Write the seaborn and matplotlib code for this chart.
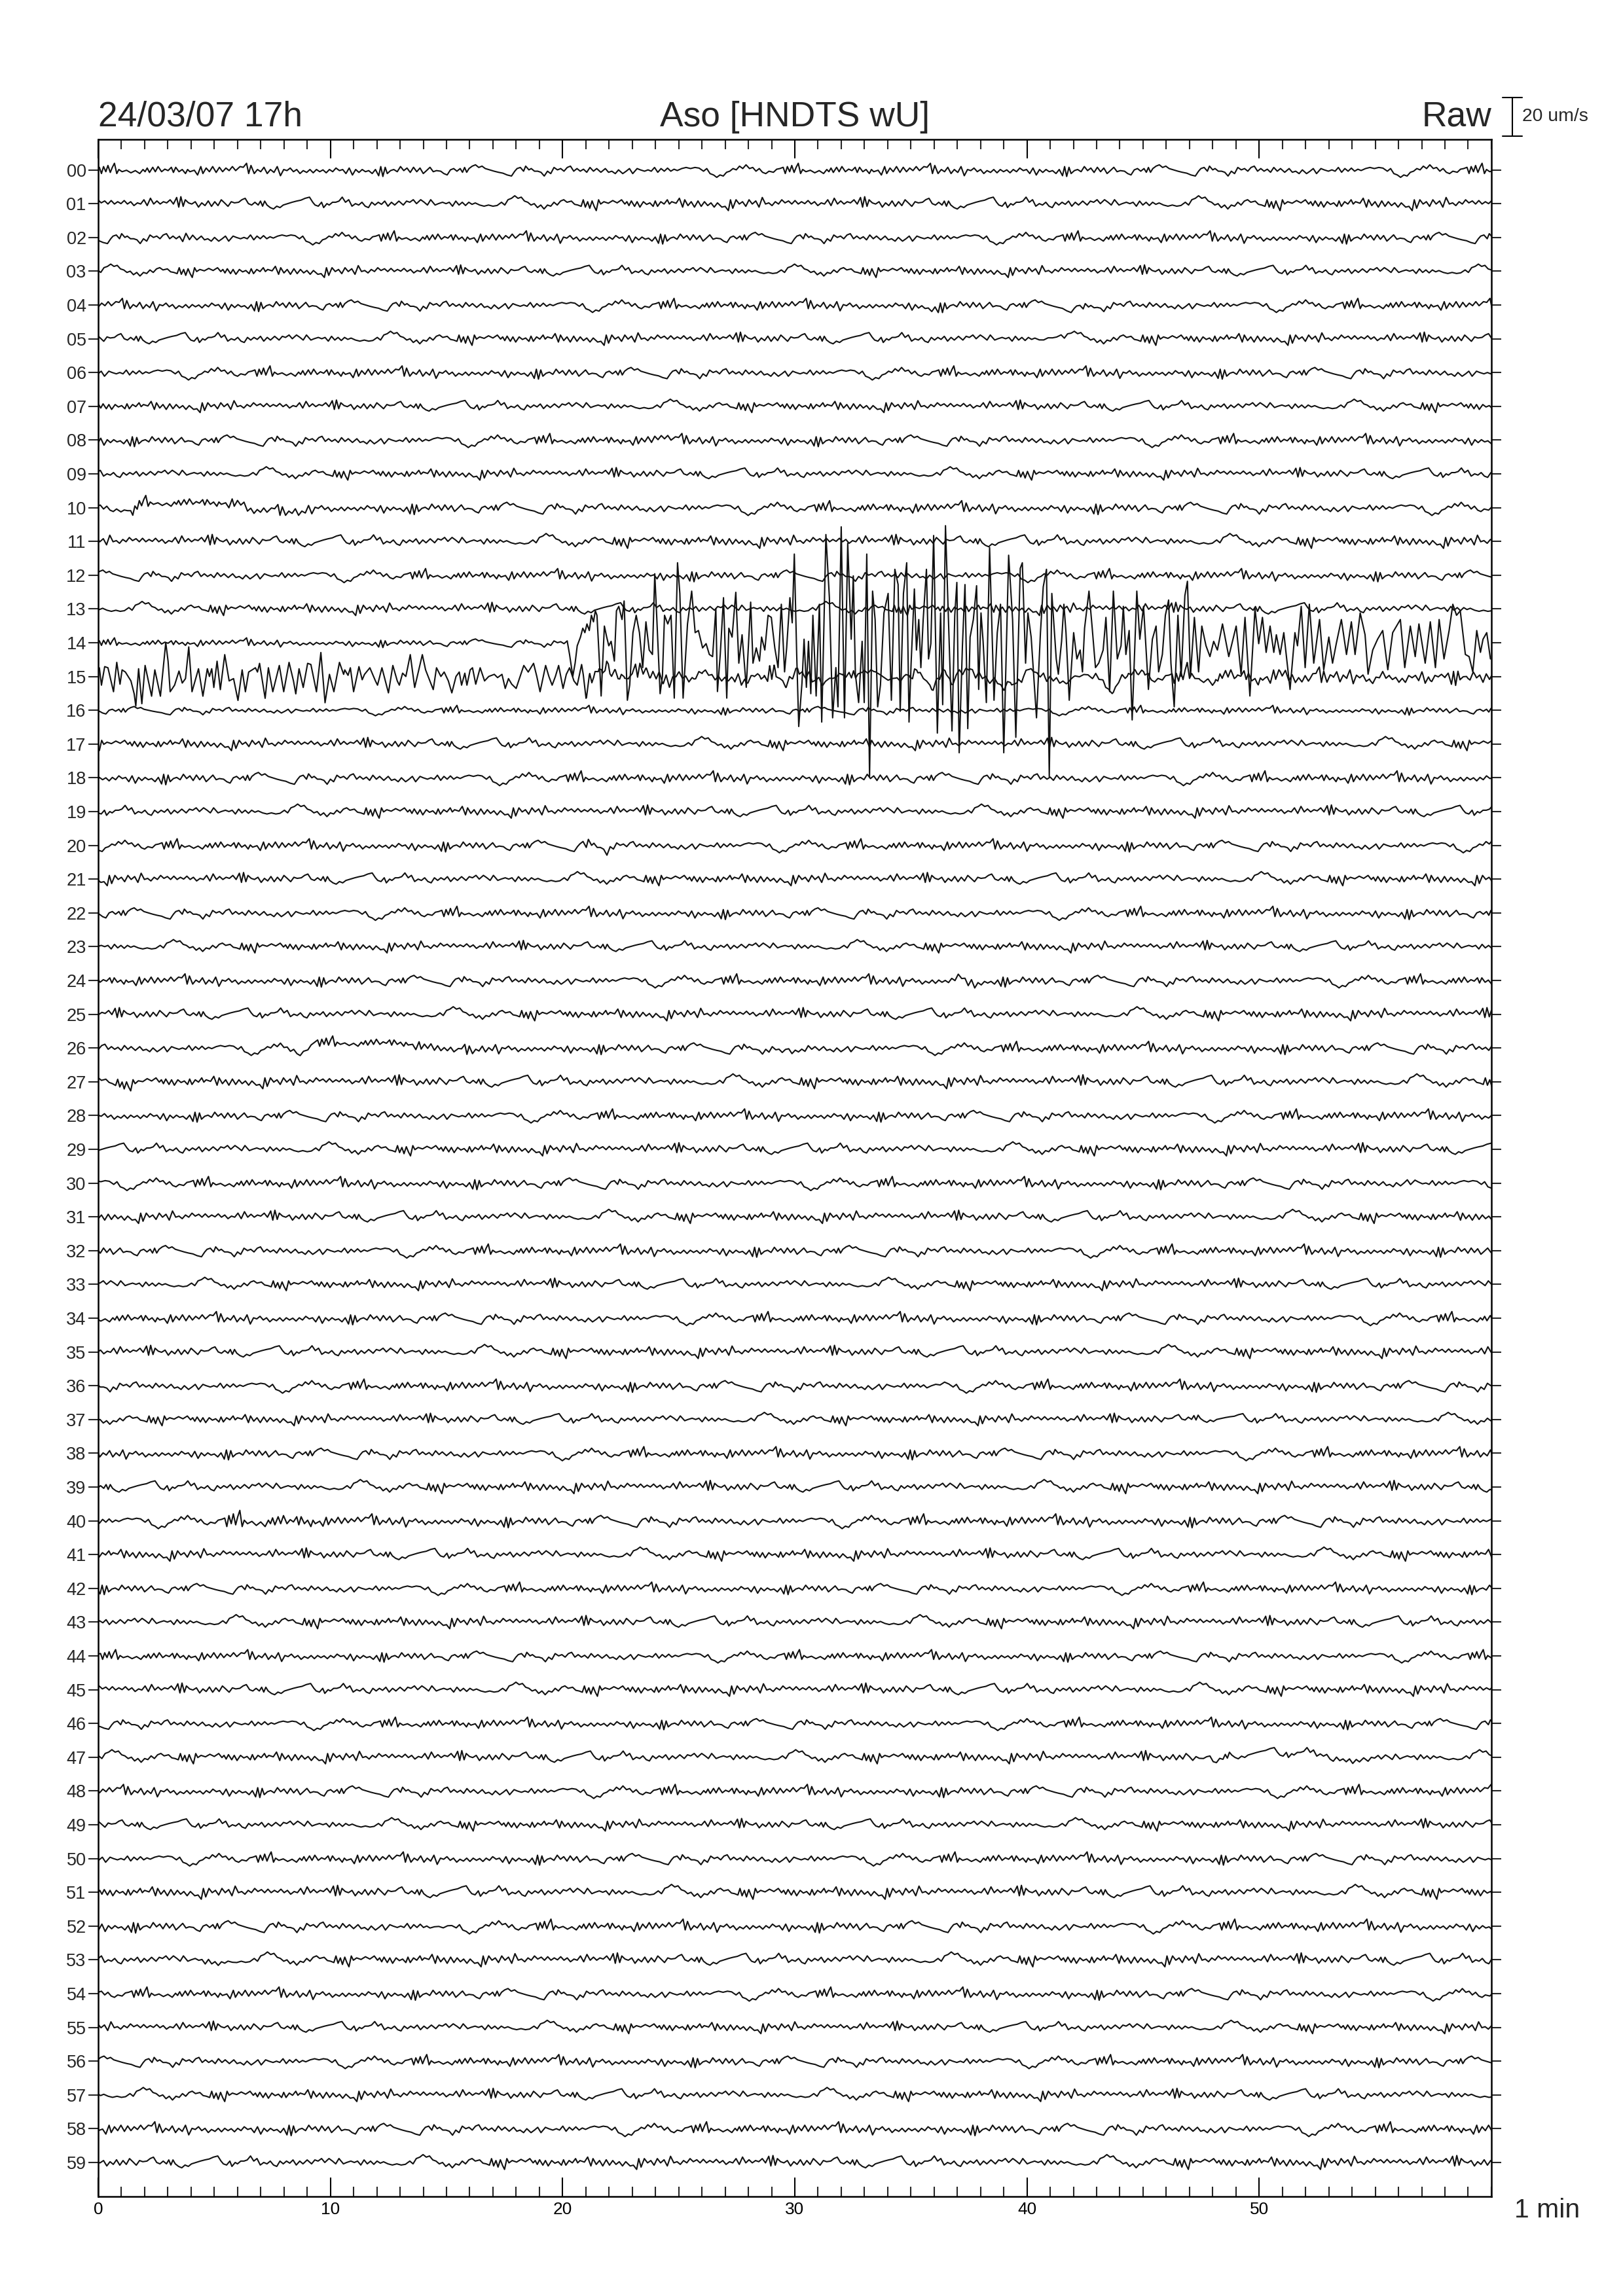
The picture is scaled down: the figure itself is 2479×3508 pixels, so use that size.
import numpy as np
import pandas as pd
import seaborn as sns
import matplotlib.pyplot as plt
from matplotlib import transforms
from matplotlib.ticker import MultipleLocator

# Chart values -----------------------------------------------------------------
ROWS = list(range(60))                      # one row = one minute of 17h
ROW_LABELS = [f"{r:02d}" for r in ROWS]
X_TICKS = [0, 10, 20, 30, 40, 50]           # seconds
ROW_UM = 17.49                              # um/s between two rows
SCALE_UM = 20                               # scale bar

SNIP_A_T = [0.05, 0.14, 0.23, 0.33, 0.42, 0.52, 0.61, 0.70, 0.80, 0.89,
            1.03, 1.22, 1.41, 1.60, 1.79, 1.93, 2.02, 2.11, 2.21, 2.35,
            2.46, 2.58, 2.73, 2.87, 3.01, 3.15, 3.24, 3.34, 3.48, 3.62,
            3.76, 3.85, 3.95, 4.14, 4.28, 4.42, 4.51, 4.65, 4.79, 4.93,
            5.08, 5.22, 5.36, 5.50, 5.64, 5.78, 5.92, 6.11, 6.25, 6.39,
            6.48, 6.58, 6.72, 6.86, 7.00, 7.14, 7.28, 7.42, 7.57, 7.71,
            7.85, 7.99, 8.13, 8.27, 8.41, 8.55, 8.69, 8.83, 8.98, 9.12,
            9.26, 9.40, 9.54, 9.68, 9.82, 9.96, 10.10, 10.24, 10.39, 10.53,
            10.67, 10.81, 10.95, 11.09, 11.23, 11.37, 11.51, 11.65, 11.80, 11.94,
            12.08, 12.17, 12.26, 12.36, 12.45, 12.59, 12.73, 12.88, 13.02, 13.16,
            13.30, 13.44, 13.58, 13.72, 13.86, 14.00, 14.14, 14.29, 14.43, 14.57]
SNIP_A_V = [0.7, -1.0, 0.9, -0.5, 1.2, -0.7, 0.7, 1.8, -1.0, 0.1,
            -0.5, -0.1, -0.8, -0.2, -1.0, 0.1, -0.5, 0.5, -0.7, 0.7,
            -0.5, 0.9, -0.5, 0.2, -0.2, 0.7, -0.7, 0.7, -0.5, 0.1,
            -1.0, 0.1, -0.5, -0.1, -1.4, 0.9, -1.0, 0.5, -0.5, 0.9,
            -0.7, 0.7, -0.5, 0.5, -0.2, 0.9, -0.2, 0.9, 0.7, 1.8,
            -1.0, 1.2, -1.0, 0.1, -0.5, 0.7, -1.0, 0.1, -0.7, 0.9,
            -1.6, 0.1, -0.2, 0.5, -0.5, 0.1, -1.0, -0.2, -0.7, 0.1,
            -0.8, 0.1, -0.5, 0.0, -0.8, 0.1, -0.5, 0.5, -0.2, 0.1,
            -1.0, 0.5, -1.4, 0.1, -0.7, 0.1, -0.5, -0.2, -1.0, 0.1,
            -1.6, 0.9, -1.8, 0.7, -1.0, -0.2, 0.1, -0.5, 0.9, -0.2,
            0.5, -0.7, 0.7, -0.5, 0.5, -1.0, -0.2, 0.7, -0.5, -0.2]
SNIP_B_T = [0.05, 0.19, 0.33, 0.47, 0.61, 0.75, 0.89, 0.99, 1.08, 1.17,
            1.27, 1.41, 1.55, 1.69, 1.83, 1.97, 2.16, 2.35, 2.54, 2.73,
            2.91, 3.10, 3.24, 3.34, 3.48, 3.62, 3.71, 3.85, 3.95, 4.09,
            4.23, 4.37, 4.51, 4.65, 4.79, 4.93, 5.08, 5.22, 5.36, 5.50,
            5.64, 5.78, 5.92, 6.06, 6.20, 6.34, 6.48, 6.63, 6.77, 6.95,
            7.14, 7.28, 7.42, 7.57, 7.71, 7.89, 8.04, 8.18, 8.32, 8.51,
            8.65, 8.83, 8.98, 9.12, 9.26, 9.40, 9.54, 9.68, 9.82, 9.96,
            10.10, 10.24, 10.43, 10.62, 10.81, 11.00, 11.18, 11.37, 11.51, 11.65,
            11.80, 11.94, 12.08, 12.22, 12.36, 12.50, 12.64, 12.78, 12.92, 13.06,
            13.20, 13.35, 13.49, 13.63, 13.77, 13.91, 14.05, 14.19, 14.38, 14.52,
            14.66]
SNIP_B_V = [-0.6, -1.7, -2.3, 0.0, 0.6, -0.6, 0.6, -1.1, 1.1, -1.1,
            0.6, 1.7, 2.3, 1.1, 1.7, 0.6, 0.0, -0.6, -1.1, -1.5,
            -2.3, -2.8, -0.6, 0.6, 1.1, -0.6, 1.7, 0.0, 0.6, -0.6,
            -0.6, -1.1, -2.8, -0.6, -1.7, 1.1, 0.0, 0.6, -0.6, 1.1,
            1.7, -0.6, 0.6, -0.6, 0.3, -1.1, 1.1, -0.6, 0.6, -1.1,
            0.6, -1.1, -0.6, -1.7, 0.0, -1.7, -0.6, 0.6, -1.7, 0.6,
            0.0, -0.6, 0.0, -0.6, 1.1, -1.1, 0.6, -0.6, 0.8, -0.6,
            0.3, -0.3, 0.6, 1.1, 0.6, 1.1, 0.8, -0.6, 0.6, -1.7,
            -2.3, -3.4, -2.3, -2.8, -1.1, -0.6, 0.6, 0.0, 1.7, 0.6,
            2.3, 0.6, 1.1, -0.6, 0.6, -1.1, -1.7, -0.6, -1.1, 0.3,
            0.6]
SNIP_B_WEIGHT = 0.6   # row 16 was read with more slow drift than the other rows show

# row 15, whole minute (peaks and troughs), um/s
EV15_T = [0.05, 0.14, 0.28, 0.42, 0.66, 0.80, 0.94, 1.03, 1.17, 1.41,
          1.55, 1.62, 1.74, 1.88, 2.02, 2.30, 2.44, 2.68, 2.91, 3.01,
          3.10, 3.29, 3.48, 3.62, 3.76, 3.90, 3.99, 4.04, 4.32, 4.51,
          4.70, 4.79, 4.89, 4.98, 5.12, 5.26, 5.45, 5.64, 5.83, 6.02,
          6.20, 6.34, 6.48, 6.63, 6.77, 6.86, 6.95, 7.19, 7.33, 7.52,
          7.80, 7.99, 8.22, 8.41, 8.51, 8.65, 8.83, 9.02, 9.16, 9.40,
          9.59, 9.77, 9.96, 10.15, 10.39, 10.57, 10.62, 10.76, 10.86, 11.00,
          11.23, 11.37, 11.47, 11.70, 11.94, 12.03, 12.22, 12.50, 12.69, 12.88,
          12.97, 13.11, 13.25, 13.44, 13.63, 13.96, 14.10, 14.43, 14.57,
          14.76, 14.90, 15.08, 15.23, 15.41, 15.55, 15.65, 15.79, 15.88, 16.02,
          16.12, 16.26, 16.45, 16.64, 16.82, 17.06, 17.20, 17.39, 17.53, 17.67,
          17.81, 18.00, 18.14, 18.33, 18.52, 18.75, 18.89, 19.03, 19.27, 19.41,
          19.55, 19.69, 19.83, 20.02, 20.16, 20.30, 20.49, 20.63, 20.82, 21.01,
          21.15, 21.34, 21.57, 21.71, 21.90, 22.04, 22.27, 22.46, 22.65, 22.84,
          23.03, 23.31, 23.59, 23.78, 24.15, 24.34, 24.72, 25.00, 25.28, 25.66,
          26.03, 26.41, 26.69, 27.07, 27.35, 27.63, 27.91, 28.20, 28.48, 28.67,
          28.95,
          29.14, 29.32, 29.61, 29.89, 30.12, 30.36, 30.64, 30.92, 31.20, 31.49,
          31.77, 32.05, 32.33, 32.61, 32.90, 33.18, 33.46, 33.74, 34.02, 34.40,
          34.68, 34.96, 35.25, 35.53, 35.90, 36.18, 36.47, 36.75, 37.03, 37.31,
          37.55, 37.78, 38.06, 38.35, 38.72, 39.00, 39.29, 39.57, 39.85, 40.18,
          40.51, 40.79, 41.07, 41.35, 41.73, 42.01, 42.29, 42.58, 42.86, 43.05,
          43.28,
          43.56, 43.72, 43.94, 44.10, 44.32, 44.53, 44.75, 45.02, 45.29, 45.61,
          45.93, 46.26, 46.58, 46.91, 47.12, 47.45, 47.77, 48.09, 48.42, 48.74,
          49.01, 49.33, 49.60, 49.93, 50.25, 50.57, 50.90, 51.22, 51.54, 51.87,
          52.19, 52.52, 52.84, 53.16, 53.49, 53.81, 54.13, 54.46, 54.78, 55.00,
          55.32, 55.64, 55.97, 56.29, 56.61, 57.05, 57.37, 57.69, 58.02, 58.34,
          58.66, 58.99, 59.31, 59.63, 59.96]
EV15_V = [4.5, -4.5, 5.1, 4.5, -7.9, 7.3, -4.0, 3.4, 2.3, -2.3,
          -9.0, -15.3, 4.0, -14.1, 5.7, -10.2, 3.4, -10.2, 17.5, 7.9,
          -7.9, -4.5, 2.8, -3.4, -1.1, 15.3, 1.1, -7.9, 4.0, -10.2,
          4.0, 0.0, 4.0, -5.7, 7.9, -6.8, 11.3, -2.3, -1.1, -12.4,
          3.4, -7.9, 2.3, 3.4, 4.5, 2.3, 6.8, -11.3, 4.5, -7.9,
          5.7, -7.9, 7.3, -2.3, -9.0, 4.0, -5.7, 6.8, 6.2, -7.9,
          12.4, -13.6, 1.1, -7.9, 7.3, 1.1, 3.4, 0.6, 4.5, -7.9,
          5.1, -1.7, 1.1, 4.5, -2.3, -4.5, 4.5, -8.5, 5.7, -2.3,
          -4.5, 1.7, 0.0, 11.3, -5.7, 11.3, 3.4, -6.8, 4.5,
          0.0, 2.3, -2.3, -8.5, 0.0, 2.3, -4.5, 1.7, -4.5, 3.4,
          4.5, -4.0, 4.5, -2.3, 0.0, 1.1, -0.6, 1.1, -6.2, -1.1,
          -4.0, -6.2, -1.1, 5.7, 2.3, 6.8, 0.0, -7.9, 5.7, 0.0,
          -4.5, 0.0, 5.7, -6.2, 1.1, 4.5, -2.3, -4.5, 6.2, -7.9,
          -1.1, 0.0, 4.5, 0.0, 7.9, 1.1, 2.3, -2.3, 0.0, -3.4,
          0.0, 3.4, 4.5, 0.0, 2.3, -2.3, -0.6, 1.1, 0.0, 0.0,
          4.0, 1.1, 0.0, -2.3, 0.0, 0.0, -2.3, 1.1, 2.3, 0.0,
          3.4,
          4.0, 0.0, -4.5, -1.1, 4.5, 0.0, 1.1, -1.7, -3.4, 0.0,
          3.4, 0.0, 1.1, 1.1, -1.1, 0.0, 1.7, 1.1, 0.0, 3.4,
          1.1, -1.7, 2.3, 0.0, -3.4, 1.1, 2.3, -4.0, 0.0, 2.8,
          4.5, 1.1, 0.0, -1.7, -1.7, -4.5, -1.1, -3.4, 1.1, 4.5,
          1.1, -0.6, -1.1, -2.3, -3.4, -1.7, -1.1, -0.6, 0.0, 1.1,
          2.3,
          -3.4, -4.5, -2.3, 0.0, -1.7, 0.0, -0.6, 2.3, 0.0, 0.0,
          0.0, -0.6, -1.1, 2.3, 1.1, -1.1, -0.6, -2.3, 1.1, 1.1,
          0.0, 1.1, -0.6, -1.7, 0.0, 0.6, 2.3, 0.0, -1.7, -2.3,
          -1.7, 0.0, -0.6, 1.1, 0.0, 1.1, 0.6, -0.6, -1.7, 0.0,
          2.3, 0.0, -0.6, -1.7, 0.0, 1.1, -1.1, 1.1, 2.3, 0.0,
          1.1, -0.6, 0.0, -1.1, 0.0]

# row 14 from the onset at 20.2 s to the end of the minute, um/s
EV14_T = [20.21, 20.30, 20.44, 20.54, 20.63, 20.77, 20.87, 20.96, 21.05, 21.15,
          21.24, 21.33, 21.41, 21.48, 21.57, 21.66, 21.80, 21.90, 21.99, 22.09,
          22.23, 22.32, 22.42, 22.56, 22.65, 22.79, 22.89, 23.03, 23.17, 23.31,
          23.45, 23.59, 23.73, 23.87, 23.97, 24.06, 24.20, 24.30, 24.39, 24.53,
          24.67, 24.81, 24.95, 25.05, 25.19, 25.38, 25.56, 25.71, 25.85, 26.03,
          26.18, 26.32, 26.46, 26.60, 26.67, 26.79, 26.93, 27.07, 27.16, 27.30,
          27.46, 27.59, 27.73, 27.91, 28.10, 28.20, 28.34, 28.48, 28.57, 28.71,
          28.85, 28.99,
          29.04, 29.14, 29.28, 29.42, 29.56, 29.65, 29.79, 29.89, 29.98, 30.08,
          30.17, 30.31, 30.40, 30.50, 30.59, 30.69, 30.78, 30.92, 31.06, 31.16,
          31.25, 31.34, 31.49, 31.63, 31.77, 31.86, 32.00, 32.14, 32.28, 32.43,
          32.52, 32.61, 32.75, 32.90, 32.99, 33.10, 33.22, 33.35, 33.46, 33.57,
          33.69, 33.84, 34.02, 34.16, 34.31, 34.45, 34.54, 34.68, 34.82, 34.92,
          35.01, 35.15, 35.24, 35.34, 35.43, 35.53, 35.67, 35.76, 35.86, 35.98,
          36.14, 36.28, 36.37, 36.49, 36.64, 36.77, 36.89, 36.98, 37.08, 37.22,
          37.33, 37.45, 37.55, 37.69, 37.83, 37.92, 38.02, 38.11, 38.25, 38.39,
          38.58, 38.72, 38.86, 39.00, 39.21, 39.38, 39.52, 39.71, 39.80, 39.94,
          40.04, 40.18, 40.41, 40.58, 40.70, 40.84, 40.96, 41.07, 41.26, 41.35,
          41.49, 41.59, 41.68, 41.82, 42.01, 42.15, 42.29, 42.39, 42.48, 42.67,
          42.81, 42.95, 43.09, 43.28, 43.37,
          43.40, 43.56, 43.72, 43.89, 44.05, 44.15, 44.26, 44.40, 44.53, 44.73,
          44.86, 45.02, 45.23, 45.40, 45.56, 45.67, 45.83, 45.96, 46.10, 46.20,
          46.34, 46.50, 46.64, 46.80, 46.91, 47.04, 47.21, 47.39, 47.53, 47.71,
          47.88, 48.04, 48.20, 48.42, 48.69, 49.01, 49.22, 49.39, 49.60, 49.82,
          49.98, 50.14, 50.30, 50.47, 50.63, 50.74, 50.90, 51.06, 51.33, 51.54,
          51.65, 51.81, 51.98, 52.16, 52.35, 52.60, 52.78, 53.00, 53.16, 53.32,
          53.54, 53.76, 53.97, 54.13, 54.35, 54.56, 54.69, 54.89, 55.10, 55.32,
          55.54, 55.75, 56.08, 56.27, 56.51, 56.72, 56.88, 57.15, 57.37, 57.59,
          57.75, 57.96, 58.18, 58.34, 58.50, 58.66, 58.88, 59.04, 59.20, 59.37,
          59.53, 59.64, 59.80, 59.96]
EV14_V = [0.1, -6.1, -17.4, -10.6, -1.6, 2.9, 7.5, 5.2, 9.7, 6.3,
          14.2, 10.8, 16.5, 14.2, -6.1, -27.6, 8.6, 2.9, -1.6, 0.7,
          -9.5, 16.5, 18.8, 12.0, 21.6, -29.8, -21.9, 5.2, 14.2, 5.2,
          -12.9, 10.8, -3.8, -6.1, 35.7, 12.0, -26.4, -17.4, 14.2, 9.7,
          14.2, -28.7, 41.4, 25.5, -28.7, 9.7, 26.7, 5.2, 6.3, -2.7,
          -0.5, -6.1, -7.2, 17.6, -25.3, -6.1, 23.3, -28.7, 7.5, 2.9,
          26.1, -10.6, 4.1, -23.1, 21.0, -10.6, -2.7, -9.5, 2.9, -3.8,
          14.2, 13.1,
          7.5, -2.7, -12.9, 19.9, -15.1, -2.7, 23.3, 10.3, 45.9, -5.0,
          -43.4, -20.8, 1.8, -23.1, 0.7, -26.4, 14.2, -27.6, 19.9, -41.1,
          6.3, 56.0, 23.3, -38.9, -12.9, -33.2, 60.0, -38.9, 51.5, 1.8,
          34.6, -16.3, -31.0, 0.7, -31.0, 45.9, -69.4, 26.7, 12.0, -33.2,
          -21.9, 15.4, 25.5, -29.8, 38.0, 30.1, -35.5, 25.5, 41.4, -41.1,
          -10.6, 27.8, -3.8, 12.0, -12.9, 12.0, 38.0, -8.4, -0.5, 55.5,
          -46.8, 15.4, -32.1, 60.6, 4.1, -45.7, 14.2, 31.2, -57.0, -1.6,
          30.1, -44.5, 2.9, 12.0, 29.5, -24.2, 15.4, 0.7, -31.0, 49.3,
          -29.8, 5.2, 19.9, -57.0, 45.3, 12.0, -49.0, 38.5, 41.4, -10.6,
          15.4, 2.9, -38.9, 5.2, 28.9, 38.0, -69.4, 25.5, -8.4, -16.3,
          0.7, 19.9, 5.2, -29.8, 5.2, -8.4, -3.8, -15.1, 7.5, 26.7,
          7.5, -12.9, -10.6, -3.8, 8.6,
          13.1, -25.3, 26.7, -8.4, -1.6, 18.8, -6.1, 6.3, -40.0, 26.7,
          1.8, 18.8, -24.2, 1.8, 8.6, -15.1, -6.1, 14.2, 22.1, -10.6,
          -33.2, 14.2, -17.4, 24.4, 31.8, -17.4, 13.1, -15.1, 8.6, -1.6,
          -7.2, 0.7, -3.8, 9.7, -7.2, 8.6, -16.3, 13.1, -27.6, 17.6,
          -0.5, 13.1, -5.0, 8.6, -5.0, 4.1, -6.1, 5.2, -24.2, 5.2,
          -1.6, 18.8, -12.9, 19.9, -10.6, 12.0, -14.0, 2.9, -10.6, -0.5,
          12.0, -6.1, 10.8, -6.1, 15.4, 4.1, -16.3, -3.8, 1.8, 6.3,
          -14.0, 5.2, 12.0, -12.9, 8.6, -7.2, 9.7, -10.6, 10.8, -12.9,
          12.0, -8.4, 6.3, 19.9, 14.2, 16.5, -6.1, -7.2, -15.1, 6.3,
          -5.0, 1.8, 5.2, -8.4]
EV14_ONSET = 20.21

# noise level per row (relative to the read background)
NOISE_GAIN = [1.9, 2.0, 1.9, 1.8, 1.9, 1.9, 1.9, 1.8, 1.9, 1.8,
              2.0, 2.0, 1.9, 1.9, 1.4, 1.4, 1.4, 1.9, 2.0, 1.9,
              1.9, 1.9, 1.9, 1.8, 1.9, 1.9, 1.9, 2.0, 1.9, 1.9,
              1.9, 1.9, 1.9, 1.8, 1.9, 1.9, 1.9, 1.8, 1.9, 1.9,
              2.0, 1.9, 1.8, 1.9, 1.8, 1.9, 1.8, 1.9, 1.9, 1.8,
              1.9, 2.0, 2.0, 2.0, 1.9, 1.8, 1.9, 1.9, 2.0, 2.0]

# slow drifts: row -> (seconds, um/s)
DRIFTS = {
    4: ([35.2, 35.9, 36.6, 41.5, 42.3, 43.5], [0, -1.5, 0, 0, -1.5, 0]),
    5: ([40.5, 41.2, 42.0], [0, 2.0, 0]),
    8: ([23.8, 24.2, 24.8], [0, 1.5, 0]),
    10: ([0.0, 0.8, 1.4, 1.9, 6.1, 6.6, 8.8, 9.2], [0, 0, -3.0, 2.7, 2.7, -2.0, -2.0, 0]),
    24: ([36.5, 37.1, 37.8, 38.5], [0, 2.0, -1.5, 0]),
    26: ([7.8, 8.7, 9.4, 13.2, 15.5, 16.8, 28.8, 29.8, 30.6], [0, -2.0, 2.8, 2.8, -2.0, 0, 0, -2.5, 0]),
    27: ([0.5, 1.2, 2.0], [0, -1.5, 0]),
    30: ([55.8, 56.5, 57.2], [0, 1.2, 0]),
    36: ([35.5, 36.0, 36.5], [0, -1.5, 0]),
    37: ([46.5, 47.5, 49.0], [0, 1.2, 0]),
    47: ([47.0, 48.1, 48.8, 52.6, 53.8, 56.3], [0, -2.5, 1.8, 1.8, -2.2, 0]),
    52: ([14.0, 14.8, 15.5], [0, -1.8, 0]),
    53: ([4.2, 5.2, 6.0], [0, -2.0, 0]),
}

# short bursts of stronger shaking: (row, from s, to s, gain)
BURSTS = [(2, 3.5, 4.2, 1.7), (20, 20.8, 22.0, 1.6), (36, 35.5, 36.5, 1.6),
          (40, 5.5, 9.5, 1.5), (24, 36.8, 37.6, 1.5)]


# Build the traces -------------------------------------------------------------
SNIP_T = np.array(SNIP_A_T + [t + 14.70 for t in SNIP_B_T])
SNIP_V = np.array(SNIP_A_V + [v * SNIP_B_WEIGHT for v in SNIP_B_V])
PERIOD = 29.45


def quiet_trace(row, t_from, t_to):
    """Background trace of one row, starting at a different place of the read noise."""
    if row == 14:
        start = 0.0
    elif row == 16:
        start = 14.70
    else:
        start = (row * 8.7) % PERIOD
    t = np.concatenate([SNIP_T + k * PERIOD - start for k in range(-1, 4)])
    sign = 1 if (row % 2 == 0 or row in (14, 15)) else -1
    v = np.tile(SNIP_V, 5) * NOISE_GAIN[row] * sign
    keep = (t >= t_from - 0.3) & (t <= t_to)
    t, v = t[keep], v[keep]
    for r, t0, t1, g in BURSTS:
        if r == row:
            v = np.where((t >= t0) & (t <= t1), v * g, v)
    if row in DRIFTS:
        dt, dv = DRIFTS[row]
        v = v + np.interp(t, dt, dv, left=0, right=0)
    return t, v


frames = []
for row in ROWS:
    if row == 14:
        t0, v0 = quiet_trace(row, 0, EV14_ONSET - 0.01)
        t = np.concatenate([t0, EV14_T])
        v = np.concatenate([v0, EV14_V])
    elif row == 15:
        tn, vn = quiet_trace(row, 21.0, 60.5)
        t = np.union1d(np.array(EV15_T), tn)
        v = np.interp(t, EV15_T, EV15_V)
        v = v + np.where(t >= 21.0, 2.0 * np.interp(t, tn, vn), 0)
    else:
        t, v = quiet_trace(row, 0, 60.5)
    frames.append(pd.DataFrame({"seconds": t, "pos": row - np.asarray(v) / ROW_UM, "row": row}))

df = pd.concat(frames, ignore_index=True)

# Plot -------------------------------------------------------------------------
sns.set_style("ticks")
plt.rcParams["font.family"] = ["Liberation Sans", "DejaVu Sans"]

fig = plt.figure(figsize=(2479 / 300, 3508 / 300), dpi=300)
ax = fig.add_axes([0.0605, 0.0433, 0.8584, 0.8961])

sns.lineplot(data=df, x="seconds", y="pos", units="row", estimator=None, sort=False,
             color="#111111", linewidth=0.5, ax=ax, legend=False)

ax.set_xlabel("")
ax.set_ylabel("")

ax.set_xticks(X_TICKS)
ax.set_xticklabels([str(x) for x in X_TICKS])
ax.xaxis.set_minor_locator(MultipleLocator(1))
ax.tick_params(axis="x", which="major", direction="in", length=7, width=0.5,
               top=True, bottom=True, labelsize=6.3, pad=1.8, colors="black")
ax.tick_params(axis="x", which="minor", direction="in", length=3.6, width=0.5,
               top=True, bottom=True)
ax.set_yticks(ROWS)
ax.set_yticklabels(ROW_LABELS)
ax.tick_params(axis="y", which="major", direction="out", length=3.6, width=0.5,
               left=True, right=True, labelsize=6.5, pad=0.8)
ax.tick_params(axis="y", which="minor", left=False, right=False)
for s in ax.spines.values():
    s.set_linewidth(0.6)
    s.set_color("black")

# header and footer
fig.text(0.0605, 0.945, "24/03/07 17h", fontsize=12.8, ha="left", va="baseline")
fig.text(0.4897, 0.945, "Aso [HNDTS wU]", fontsize=12.8, ha="center", va="baseline")
fig.text(0.9189, 0.945, "Raw", fontsize=12.8, ha="right", va="baseline")
fig.text(0.933, 0.0373, "1 min", fontsize=9.8, ha="left", va="center")

# amplitude scale bar, same units as the traces
blend = transforms.blended_transform_factory(fig.transFigure, ax.transData)
y_lo = -1.0
y_hi = y_lo - SCALE_UM / ROW_UM
ax.plot([0.9318, 0.9318], [y_lo, y_hi], transform=blend, color="black", lw=0.5, clip_on=False)
ax.plot([0.9258, 0.9378], [y_lo, y_lo], transform=blend, color="black", lw=0.5, clip_on=False)
ax.plot([0.9258, 0.9378], [y_hi, y_hi], transform=blend, color="black", lw=0.5, clip_on=False)
ax.text(0.938, (y_lo + y_hi) / 2, f"{SCALE_UM} um/s", transform=blend, fontsize=6.8,
        ha="left", va="center", clip_on=False)

ax.set_xlim(0, 60)
ax.set_ylim(60.01, -0.91)

fig.savefig("out.png", dpi=300)
